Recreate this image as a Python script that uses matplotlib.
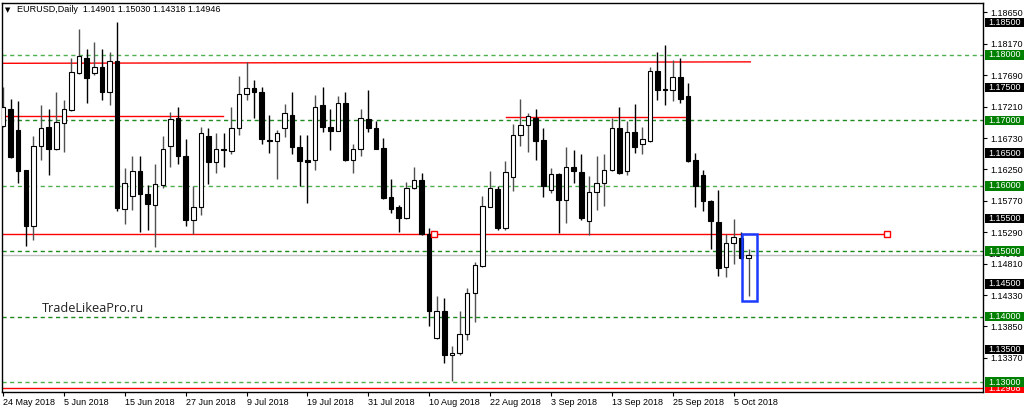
import numpy as np
import pandas as pd
import matplotlib
matplotlib.use("Agg")
import matplotlib.pyplot as plt
from matplotlib.patches import Rectangle
from matplotlib.transforms import blended_transform_factory

plt.rcParams["font.family"] = ["Liberation Sans", "DejaVu Sans"]

# EURUSD daily, 24 May 2018 .. 9 Oct 2018
opens = [1.1691, 1.1718, 1.1686, 1.1624, 1.1539, 1.1661, 1.1690, 1.1657, 1.1696, 1.1716,
         1.1773, 1.1796, 1.1772, 1.1781, 1.1744, 1.1791, 1.1565, 1.1585, 1.1622, 1.1587,
         1.1571, 1.1601, 1.1661, 1.1703, 1.1646, 1.1548, 1.1567, 1.1676, 1.1637, 1.1657,
         1.1653, 1.1689, 1.1740, 1.1749, 1.1743, 1.1670, 1.1669, 1.1689, 1.1709, 1.1659,
         1.1639, 1.1640, 1.1724, 1.1690, 1.1684, 1.1727, 1.1640, 1.1656, 1.1702, 1.1689,
         1.1658, 1.1583, 1.1567, 1.1551, 1.1597, 1.1609, 1.1526, 1.1368, 1.1409, 1.1341,
         1.1344, 1.1374, 1.1436, 1.1478, 1.1568, 1.1595, 1.1535, 1.1614, 1.1677, 1.1693,
         1.1703, 1.1670, 1.1594, 1.1618, 1.1578, 1.1629, 1.1621, 1.1546, 1.1590, 1.1604,
         1.1624, 1.1689, 1.1622, 1.1682, 1.1664, 1.1669, 1.1776, 1.1748, 1.1746, 1.1766,
         1.1737, 1.1639, 1.1617, 1.1577, 1.1545, 1.1476, 1.1512, 1.1520, 1.14901]
highs = [1.1751, 1.1733, 1.1729, 1.1624, 1.1676, 1.1724, 1.1718, 1.1744, 1.1731, 1.1795,
         1.1839, 1.1809, 1.1820, 1.1809, 1.1805, 1.1850, 1.1627, 1.1645, 1.1645, 1.1601,
         1.1633, 1.1676, 1.1713, 1.1720, 1.1671, 1.1600, 1.1690, 1.1689, 1.1680, 1.1680,
         1.1720, 1.1768, 1.1790, 1.1762, 1.1751, 1.1708, 1.1685, 1.1725, 1.1744, 1.1678,
         1.1678, 1.1739, 1.1751, 1.1717, 1.1738, 1.1744, 1.1664, 1.1718, 1.1746, 1.1699,
         1.1673, 1.1610, 1.1571, 1.1606, 1.1628, 1.1619, 1.1536, 1.1432, 1.1428, 1.1355,
         1.1408, 1.1443, 1.1484, 1.1584, 1.1622, 1.1599, 1.1638, 1.1694, 1.1733, 1.1711,
         1.1718, 1.1689, 1.1627, 1.1620, 1.1660, 1.1655, 1.1649, 1.1615, 1.1645, 1.1649,
         1.1703, 1.1721, 1.1699, 1.1725, 1.1690, 1.1782, 1.1804, 1.1815, 1.1792, 1.1796,
         1.1757, 1.1650, 1.1624, 1.1579, 1.1594, 1.1527, 1.1549, 1.1530, 1.15030]
lows = [1.1690, 1.1643, 1.1605, 1.1508, 1.1517, 1.1640, 1.1616, 1.1654, 1.1651, 1.1715,
        1.1771, 1.1726, 1.1769, 1.1731, 1.1724, 1.1562, 1.1542, 1.1563, 1.1529, 1.1532,
        1.1506, 1.1597, 1.1629, 1.1633, 1.1538, 1.1527, 1.1556, 1.1602, 1.1619, 1.1629,
        1.1649, 1.1678, 1.1731, 1.1703, 1.1664, 1.1650, 1.1611, 1.1674, 1.1648, 1.1600,
        1.1573, 1.1624, 1.1683, 1.1654, 1.1684, 1.1638, 1.1619, 1.1646, 1.1682, 1.1656,
        1.1580, 1.1559, 1.1529, 1.1549, 1.1595, 1.1525, 1.1386, 1.1365, 1.1329, 1.1301,
        1.1342, 1.1364, 1.1392, 1.1476, 1.1568, 1.1532, 1.1532, 1.1592, 1.1661, 1.1651,
        1.1640, 1.1583, 1.1589, 1.1528, 1.1543, 1.1604, 1.1548, 1.1525, 1.1563, 1.1569,
        1.1622, 1.1618, 1.1617, 1.1650, 1.1649, 1.1667, 1.1731, 1.1724, 1.1729, 1.1727,
        1.1637, 1.1567, 1.1562, 1.1503, 1.1462, 1.1461, 1.1481, 1.1488, 1.14318]
closes = [1.1720, 1.1644, 1.1623, 1.1539, 1.1661, 1.1689, 1.1656, 1.1697, 1.1717, 1.1774,
          1.1798, 1.1765, 1.1782, 1.1744, 1.1791, 1.1566, 1.1605, 1.1623, 1.1587, 1.1572,
          1.1602, 1.1656, 1.1702, 1.1645, 1.1548, 1.1567, 1.1681, 1.1637, 1.1657, 1.1654,
          1.1689, 1.1741, 1.1749, 1.1743, 1.1671, 1.1669, 1.1681, 1.1711, 1.1660, 1.1638,
          1.1637, 1.1721, 1.1690, 1.1684, 1.1726, 1.1639, 1.1656, 1.1703, 1.1689, 1.1657,
          1.1582, 1.1565, 1.1551, 1.1597, 1.1609, 1.1526, 1.1408, 1.1408, 1.1342, 1.1344,
          1.1374, 1.1436, 1.1479, 1.1569, 1.1596, 1.1535, 1.1621, 1.1678, 1.1693, 1.1706,
          1.1669, 1.1600, 1.1618, 1.1579, 1.1629, 1.1622, 1.1550, 1.1590, 1.1604, 1.1624,
          1.1689, 1.1619, 1.1682, 1.1660, 1.1671, 1.1776, 1.1746, 1.1746, 1.1766, 1.1733,
          1.1638, 1.1599, 1.1577, 1.1546, 1.1475, 1.1512, 1.1521, 1.1489, 1.14946]

dates = pd.bdate_range("2018-05-24", periods=len(opens))

# levels and drawn objects
green_levels = [1.18, 1.17, 1.16, 1.15, 1.14, 1.13]
black_levels = [1.185, 1.175, 1.165, 1.155, 1.145, 1.135]
axis_ticks = [1.1865, 1.1817, 1.1769, 1.1721, 1.1673, 1.1625,
              1.1577, 1.1529, 1.1481, 1.1433, 1.1385, 1.1337]
bid = 1.14946
low_line = 1.12908
support = 1.15263
red_segments = [(-0.2, 98.2, 1.17873, 1.17895),
                (-0.2, 28.9, 1.17072, 1.17072),
                (66.1, 90.0, 1.17050, 1.17050)]

fig = plt.figure(figsize=(10.24, 4.12), dpi=100)
ax = fig.add_axes([2 / 1024, 20 / 412, 981 / 1024, 389 / 412])

x = np.arange(len(opens))
o = np.array(opens)
c = np.array(closes)
up = c >= o

# guide lines
for lv in green_levels:
    col = "#1f8a1f" if lv in (1.17, 1.15, 1.14) else "#4fb04f"
    ax.axhline(lv, color=col, lw=1, ls=(0, (3, 2.5)), zorder=1)
ax.axhline(bid, color="#c0c0c0", lw=1, zorder=1)
ax.axhline(low_line, color="red", lw=1, zorder=1)
ax.plot([-0.2, 116.2], [support, support], color="red", lw=1, zorder=1)
for x0, x1, y0, y1 in red_segments:
    ax.plot([x0, x1], [y0, y1], color="red", lw=1, zorder=1)

# candles
ax.vlines(x[up], np.array(lows)[up], np.array(highs)[up], color="#505050", lw=1, zorder=2)
ax.vlines(x[~up], np.array(lows)[~up], np.array(highs)[~up], color="black", lw=1, zorder=2)
body = np.maximum(np.abs(c - o), 0.00004)
ax.bar(x, body, bottom=np.minimum(o, c), width=0.6,
       color=np.where(up, "white", "black"), edgecolor="black", lw=0.8, zorder=3)

# markers on the support line, selection box
ax.plot([56.6, 116.2], [support, support], ls="none", marker="s", ms=4,
        mfc="white", mec="red", mew=1, zorder=4)
ax.add_patch(Rectangle((97.1, 1.14239), 2.0, 0.01024, fill=False,
                       ec="#1a3cff", lw=1.8, zorder=4))

ax.set_xlim(-0.13, 128.78)
ax.set_ylim(1.128471, 1.187951)

# axes styling
ax.yaxis.tick_right()
ax.set_yticks(axis_ticks)
ax.set_yticklabels([f"{t:.5f}" for t in axis_ticks])
ax.tick_params(axis="y", length=3, pad=2, labelsize=6.5, width=0.8)
xt = list(range(0, len(opens), 8))
ax.set_xticks(xt)
ax.set_xticklabels([f"{dates[i].day} {dates[i].strftime('%b %Y')}" for i in xt])
ax.tick_params(axis="x", length=3, pad=1.5, labelsize=6.5, width=0.8)
for lab in ax.get_xticklabels():
    lab.set_ha("left")
for s in ax.spines.values():
    s.set_linewidth(1)

# price boxes on the right
tr = blended_transform_factory(fig.transFigure, ax.transData)
h = 9.5 / 6540
boxes = [(bid, "white", "black", 5), (low_line, "red", "white", 5)]
boxes += [(lv, "black", "white", 6) for lv in black_levels]
boxes += [(lv, "#008000", "white", 7) for lv in green_levels]
for lv, bg, fg, z in boxes:
    ax.add_patch(Rectangle((985 / 1024, lv - h / 2), 39 / 1024, h, transform=tr,
                           facecolor=bg, edgecolor="none", clip_on=False, zorder=z))
    ax.text(988 / 1024, lv, f"{lv:.5f}", transform=tr, color=fg, fontsize=6.5,
            va="center", ha="left", clip_on=False, zorder=z + 0.5)

# header and watermark
fig.text(5 / 1024, 1 - 10 / 412, "\u25bc", fontsize=5, va="center", ha="left",
         family="DejaVu Sans")
fig.text(17 / 1024, 1 - 10 / 412, "EURUSD,Daily  1.14901 1.15030 1.14318 1.14946",
         fontsize=6.5, va="center", ha="left")
fig.text(42 / 1024, 1 - 309 / 412, "TradeLikeaPro.ru", fontsize=9.2, family="Open Sans",
         color="#222222", va="center", ha="left")

fig.savefig("out.png", dpi=100)
